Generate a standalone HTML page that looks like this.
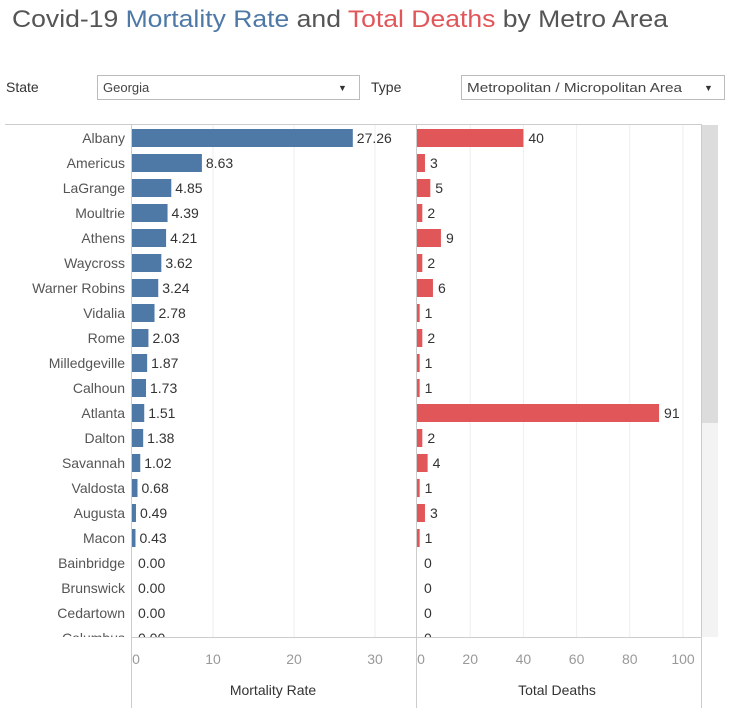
<!DOCTYPE html>
<html><head><meta charset="utf-8"><style>
body{margin:0;background:#fff;font-family:"Liberation Sans",sans-serif}
svg{display:block}
</style></head><body>
<svg id="c" width="737" height="712" xmlns="http://www.w3.org/2000/svg">
<text x="12" y="27" font-size="24" fill="#555" textLength="656" lengthAdjust="spacingAndGlyphs">Covid-19 <tspan fill="#4e79a7">Mortality Rate</tspan> and <tspan fill="#e15759">Total Deaths</tspan> by Metro Area</text>
<text x="6" y="92" font-size="14" fill="#333">State</text>
<g><rect x="97.5" y="75.5" width="262" height="24" fill="#fff" stroke="#bbb"/><text x="103" y="92" font-size="13" fill="#444">Georgia</text><text x="338" y="91" font-size="9" fill="#333">▼</text></g>
<text x="371" y="92" font-size="14" fill="#333">Type</text>
<g><rect x="461.5" y="75.5" width="263" height="24" fill="#fff" stroke="#bbb"/><text x="467" y="92" font-size="13" fill="#444" textLength="215" lengthAdjust="spacingAndGlyphs">Metropolitan / Micropolitan Area</text><text x="704" y="91" font-size="9" fill="#333">▼</text></g>
<rect x="702" y="125" width="16" height="512" fill="#f3f3f3"/>
<rect x="702" y="125" width="16" height="298" fill="#dcdcdc"/>
<g id="grid"></g>
<defs><clipPath id="cp"><rect x="0" y="125" width="702" height="512"/></clipPath></defs>
<g id="rows" clip-path="url(#cp)"></g>
<g id="axes"></g>
<line x1="5" y1="124.5" x2="702" y2="124.5" stroke="#ccc"/>
<line x1="131.5" y1="125" x2="131.5" y2="708" stroke="#ccc"/>
<line x1="416.5" y1="125" x2="416.5" y2="708" stroke="#ccc"/>
<line x1="701.5" y1="125" x2="701.5" y2="708" stroke="#ccc"/>
<line x1="131" y1="637.5" x2="702" y2="637.5" stroke="#ccc"/>
<text x="273" y="695" font-size="14" fill="#333" text-anchor="middle">Mortality Rate</text>
<text x="557" y="695" font-size="14" fill="#333" text-anchor="middle">Total Deaths</text>
</svg>
<script>
const cities=["Albany","Americus","LaGrange","Moultrie","Athens","Waycross","Warner Robins","Vidalia","Rome","Milledgeville","Calhoun","Atlanta","Dalton","Savannah","Valdosta","Augusta","Macon","Bainbridge","Brunswick","Cedartown","Columbus"];
const rates=[27.26,8.63,4.85,4.39,4.21,3.62,3.24,2.78,2.03,1.87,1.73,1.51,1.38,1.02,0.68,0.49,0.43,0,0,0,0];
const deaths=[40,3,5,2,9,2,6,1,2,1,1,91,2,4,1,3,1,0,0,0,0];
const rateTicks=[0,10,20,30];
const deathTicks=[0,20,40,60,80,100];
const NS="http://www.w3.org/2000/svg";
const xr=v=>132+v*8.1, xd=v=>417+v*2.66, yRow=i=>138+i*25;
function mk(t,a,p){const e=document.createElementNS(NS,t);for(const k in a)e.setAttribute(k,a[k]);p.appendChild(e);return e;}
const grid=document.getElementById('grid'),rows=document.getElementById('rows'),axes=document.getElementById('axes');
rateTicks.forEach(t=>{if(t>0)mk('line',{x1:xr(t),x2:xr(t),y1:125,y2:637,stroke:'#eee'},grid);
 const tx=mk('text',{x:xr(t)+(t===0?4:0),y:664,'font-size':14,fill:'#999','text-anchor':'middle'},axes);tx.textContent=t;
 
 });
deathTicks.forEach(t=>{if(t>0)mk('line',{x1:xd(t),x2:xd(t),y1:125,y2:637,stroke:'#eee'},grid);
 const tx=mk('text',{x:xd(t)+(t===0?4:0),y:664,'font-size':14,fill:'#999','text-anchor':'middle'},axes);tx.textContent=t;
 
 });
cities.forEach((c,i)=>{const y=yRow(i);
 const lb=mk('text',{x:125,y:y+5,'font-size':14,fill:'#555','text-anchor':'end'},rows);lb.textContent=c;
 
 
 const b=mk('rect',{x:132,y:y-9,width:Math.max(xr(rates[i])-132,rates[i]>0?2:0),height:18,fill:'#4e79a7'},rows);
 
 
 const v=mk('text',{x:Math.max(xr(rates[i]),134)+4,y:y+5,'font-size':14,fill:'#333'},rows);v.textContent=rates[i].toFixed(2);
 
 
 const d=mk('rect',{x:417,y:y-9,width:Math.max(xd(deaths[i])-417,deaths[i]>0?2:0),height:18,fill:'#e15759'},rows);
 
 
 const dv=mk('text',{x:Math.max(xd(deaths[i]),419)+5,y:y+5,'font-size':14,fill:'#333'},rows);dv.textContent=deaths[i];
 
 
});
</script>
</body></html>
